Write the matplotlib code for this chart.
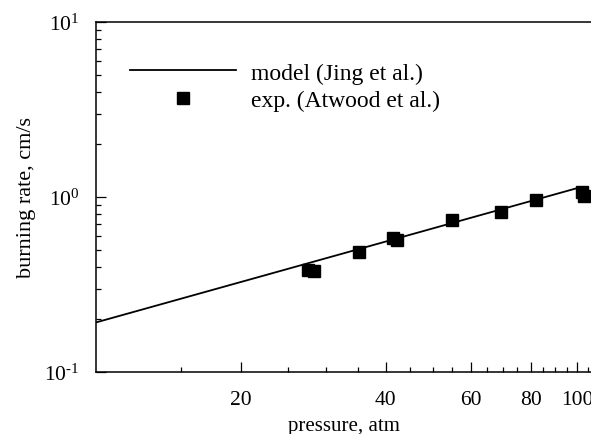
import numpy as np
import matplotlib
matplotlib.use('Agg')
import matplotlib.pyplot as plt
from matplotlib.ticker import FixedLocator, FixedFormatter, NullFormatter, LogLocator, FuncFormatter

plt.rcParams['font.family'] = ['Liberation Serif', 'DejaVu Serif']
plt.rcParams['mathtext.fontset'] = 'custom'
plt.rcParams['mathtext.rm'] = 'Liberation Serif'
plt.rcParams['mathtext.default'] = 'regular'
plt.rcParams['axes.unicode_minus'] = False

# model curve (Jing et al.)
model_p = [10, 100]
model_r = [0.192, 1.125]

# experiment (Atwood et al.)
exp_p = [27.6, 28.4, 35.2, 41.3, 42.2, 54.9, 69.4, 82.0, 102.1, 103.4]
exp_r = [0.383, 0.376, 0.487, 0.583, 0.568, 0.739, 0.818, 0.965, 1.072, 1.017]

x_major = [20, 40, 60, 80, 100]
x_minor = [15, 25, 30, 35, 45, 50, 55, 65, 70, 75, 85, 90, 95, 105]


def decade_label(v, pos):
    e = int(round(np.log10(v)))
    if e < 0:
        return r'$10^{\text{-}%d}$' % (-e)
    return r'$10^{%d}$' % e


fig = plt.figure(figsize=(5.91, 4.35), dpi=100)
ax = fig.add_axes([96 / 591, 1 - 373 / 435, 1 - 96 / 591, (373 - 23) / 435])

ax.plot(model_p, model_r, color='black', linewidth=1.3, label='model (Jing et al.)')
ax.plot(exp_p, exp_r, linestyle='none', marker='s', markersize=8, color='black',
        label='exp. (Atwood et al.)')

ax.set_xscale('log')
ax.set_yscale('log')
ax.set_xlim(10, 106.7)
ax.set_ylim(0.1, 10)

ax.xaxis.set_major_locator(FixedLocator(x_major))
ax.xaxis.set_minor_locator(FixedLocator(x_minor))
ax.xaxis.set_major_formatter(FixedFormatter([str(v) for v in x_major]))
ax.xaxis.set_minor_formatter(NullFormatter())
ax.yaxis.set_major_locator(LogLocator(base=10, numticks=5))
ax.yaxis.set_major_formatter(FuncFormatter(decade_label))
ax.yaxis.set_minor_locator(LogLocator(base=10, subs=np.arange(2, 10), numticks=10))
ax.yaxis.set_minor_formatter(NullFormatter())

ax.spines['right'].set_visible(False)
for s in ['left', 'bottom', 'top']:
    ax.spines[s].set_linewidth(1.1)
ax.tick_params(which='both', direction='in', top=False, right=False, width=0.9)
ax.tick_params(which='major', length=7, labelsize=15.5)
ax.tick_params(axis='y', which='major', pad=12)
ax.tick_params(axis='x', which='major', pad=13)
ax.tick_params(which='minor', length=3.5)

ax.set_xlabel('pressure, atm', fontsize=15, labelpad=5)
ax.set_ylabel('burning rate, cm/s', fontsize=16, labelpad=6)

fig.legend(loc='upper left', bbox_to_anchor=(130 / 591, 1 - 63 / 435), frameon=False,
           fontsize=17, handlelength=4.5, handletextpad=0.62, borderpad=0,
           borderaxespad=0, labelspacing=0.25, numpoints=1)

fig.savefig('out.png', dpi=100)
